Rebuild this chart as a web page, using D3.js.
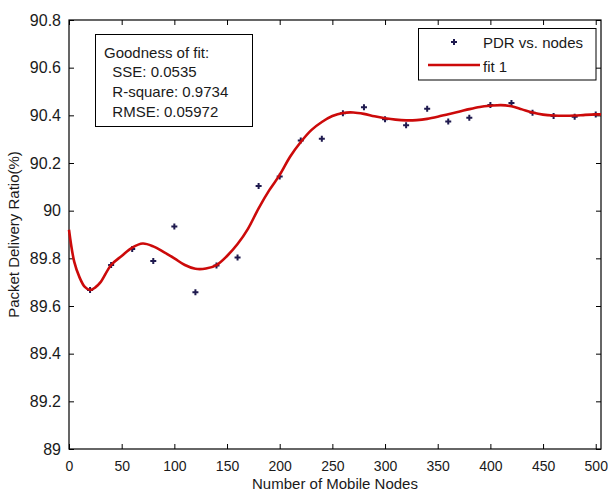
<!DOCTYPE html>
<html>
<head>
<meta charset="utf-8">
<script src="https://cdn.jsdelivr.net/npm/d3@7"></script>
<style>
  html, body { margin: 0; padding: 0; background: #fff; }
  svg { display: block; }
  text { font-family: Arial, "Liberation Sans", sans-serif; fill: #1a1a1a; }
</style>
</head>
<body>
<svg id="chart" width="608" height="492"></svg>
<script>
// ---- data ----
const nodes = [20, 40, 60, 80, 100, 120, 140, 160, 180, 200, 220, 240, 260, 280, 300, 320, 340, 360, 380, 400, 420, 440, 460, 480, 500];
const pdr   = [89.667, 89.772, 89.839, 89.789, 89.934, 89.658, 89.77, 89.804, 90.104, 90.143, 90.294, 90.302, 90.409, 90.434, 90.384, 90.358, 90.428, 90.374, 90.39, 90.443, 90.452, 90.411, 90.397, 90.394, 90.404];

const fitX = [0, 5, 10, 15, 20, 25, 30, 40, 50, 60, 70, 80, 90, 100, 110, 120, 130, 140, 150, 160, 170, 180, 190, 200, 210, 220, 230, 240, 250, 260, 270, 280, 290, 300, 310, 320, 330, 340, 350, 360, 370, 380, 390, 400, 410, 420, 430, 440, 450, 460, 470, 480, 490, 500, 505];
const fitY = [89.92, 89.785, 89.72, 89.68, 89.667, 89.678, 89.70, 89.772, 89.81, 89.845, 89.862, 89.85, 89.826, 89.80, 89.772, 89.756, 89.757, 89.772, 89.81, 89.86, 89.925, 90.01, 90.085, 90.15, 90.227, 90.288, 90.338, 90.372, 90.397, 90.41, 90.412, 90.406, 90.396, 90.388, 90.382, 90.379, 90.38, 90.385, 90.394, 90.405, 90.415, 90.426, 90.435, 90.44, 90.443, 90.438, 90.425, 90.412, 90.403, 90.399, 90.398, 90.399, 90.402, 90.404, 90.404];

const xTicks = [0, 50, 100, 150, 200, 250, 300, 350, 400, 450, 500];
const yTicks = [89, 89.2, 89.4, 89.6, 89.8, 90, 90.2, 90.4, 90.6, 90.8];
const gofLines = ["Goodness of fit:", "  SSE: 0.0535", "  R-square: 0.9734", "  RMSE: 0.05972"];
const legendLabels = ["PDR vs. nodes", "fit 1"];
const xLabel = "Number of Mobile Nodes";
const yLabel = "Packet Delivery Ratio(%)";

// ---- layout ----
const L = 69, T = 20, R = 601, B = 449;
const svg = d3.select("#chart");
const x = d3.scaleLinear().domain([0, 505]).range([L, R]);
const y = d3.scaleLinear().domain([89, 90.8]).range([B, T]);

const tickLen = 5;
const fmtY = d => (Math.round(d * 10) / 10).toString();

// axes
const xAxis = d3.axisBottom(x).tickValues(xTicks).tickSizeInner(-tickLen).tickSizeOuter(0).tickPadding(11).tickFormat(d => d);
const gx = svg.append("g").attr("transform", `translate(0,${B})`).call(xAxis);
const xTop = d3.axisTop(x).tickValues(xTicks).tickSizeInner(-tickLen).tickSizeOuter(0).tickFormat("");
const gxt = svg.append("g").attr("transform", `translate(0,${T})`).call(xTop);
const yAxis = d3.axisLeft(y).tickValues(yTicks).tickSizeInner(-tickLen).tickSizeOuter(0).tickPadding(8).tickFormat(fmtY);
const gy = svg.append("g").attr("transform", `translate(${L},0)`).call(yAxis);
const yRight = d3.axisRight(y).tickValues(yTicks).tickSizeInner(-tickLen).tickSizeOuter(0).tickFormat("");
const gyr = svg.append("g").attr("transform", `translate(${R},0)`).call(yRight);

[gx, gxt, gy, gyr].forEach(g => {
  g.select(".domain").remove();
  g.selectAll("line").attr("stroke", "#000").attr("stroke-width", 1);
  g.selectAll("text").attr("fill", "#1a1a1a");
});
gy.selectAll("text").style("font-size", "16px");
gx.selectAll("text").style("font-size", "14px").attr("dy", "0.75em");

// frame
svg.append("rect").attr("x", L).attr("y", T).attr("width", R - L).attr("height", B - T)
  .attr("fill", "none").attr("stroke", "#000").attr("stroke-width", 1.2);

// data points (drawn first, fit on top as in MATLAB)
const marker = d3.symbol().type(d3.symbolCross).size(20);
svg.append("g").selectAll("path").data(nodes).join("path")
  .attr("d", marker)
  .attr("transform", (d, i) => `translate(${x(d)},${y(pdr[i])})`)
  .attr("fill", "#1f1a4f");

// fit curve
const line = d3.line().x((d, i) => x(d)).y((d, i) => y(fitY[i])).curve(d3.curveCatmullRom.alpha(0.5));
svg.append("path").datum(fitX).attr("d", line)
  .attr("fill", "none").attr("stroke", "#cc0a0a").attr("stroke-width", 2.6)
  .attr("stroke-linejoin", "round");

// axis labels
svg.append("text").attr("x", (L + R) / 2).attr("y", 489).attr("text-anchor", "middle")
  .style("font-size", "15px").text(xLabel);
svg.append("text").attr("transform", `translate(19,${(T + B) / 2}) rotate(-90)`).attr("text-anchor", "middle")
  .style("font-size", "15px").text(yLabel);

// goodness of fit box
svg.append("rect").attr("x", 95.5).attr("y", 34.5).attr("width", 157).attr("height", 92)
  .attr("fill", "#fff").attr("stroke", "#000").attr("stroke-width", 1);
svg.append("g").selectAll("text").data(gofLines).join("text")
  .attr("x", 104).attr("y", (d, i) => 57.5 + i * 19.7)
  .attr("xml:space", "preserve").style("white-space", "pre")
  .style("font-size", "15px").text(d => d);

// legend
svg.append("rect").attr("x", 418.5).attr("y", 28.5).attr("width", 177.5).attr("height", 51.5)
  .attr("fill", "#fff").attr("stroke", "#000").attr("stroke-width", 1);
svg.append("path").attr("d", marker).attr("transform", "translate(454,42)").attr("fill", "#1f1a4f");
svg.append("line").attr("x1", 428).attr("x2", 480).attr("y1", 65).attr("y2", 65)
  .attr("stroke", "#cc0a0a").attr("stroke-width", 2.6);
svg.append("g").selectAll("text").data(legendLabels).join("text")
  .attr("x", 483).attr("y", (d, i) => 48 + i * 23.5)
  .style("font-size", "15px").text(d => d);
</script>
</body>
</html>
